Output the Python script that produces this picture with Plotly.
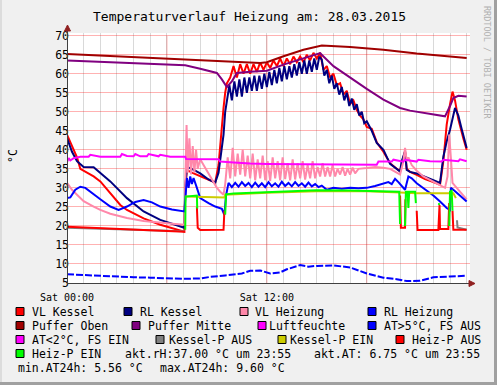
import plotly.graph_objects as go

# ---------------- data (hours since Sat 00:00, values in °C / %) ----------------
vlk_h = [0, 0.3, 0.6, 0.8, 1.1, 1.6, 2.0, 2.6, 3.2, 3.6, 4.6, 5.6, 6.5, 7.05, 7.1, 7.2, 7.5, 8.0, 8.5, 8.9,
         9.1, 9.3, 9.4, 9.5, 9.6, 9.8, 10.0, 10.2, 10.4, 10.6, 10.8, 11.0, 11.2, 11.4, 11.6, 11.8, 12.0, 12.2,
         12.4, 12.6, 12.8, 13.0, 13.2, 13.4, 13.6, 13.8, 14.0, 14.2, 14.4, 14.6, 14.8, 15.0, 15.2,
         15.4, 15.6, 15.8, 16.0, 16.2, 16.4, 16.6, 16.8, 17.0, 17.2, 17.4, 17.6, 17.8, 18.0, 18.3, 18.6,
         19.0, 19.4, 19.8, 20.0, 20.2, 20.3, 20.4, 20.6, 21.0, 21.5, 22.0, 22.4, 22.6, 22.8, 23.0, 23.15,
         23.3, 23.5, 23.8, 24.0]
vlk_v = [44, 41, 38, 35, 34.3, 33, 31.7, 28.5, 25.5, 24.2, 22, 20.3, 19.2, 18.5, 30, 34.7, 34, 33, 32, 31.4,
         36, 47, 51, 55, 57.5, 59, 62, 59, 62.5, 60, 62.5, 60, 62.5, 60.5, 63, 61, 63, 61.5,
         63.5, 62, 64, 62, 64, 62.5, 64.5, 63, 64.5, 63, 65, 63.5, 65.5, 64, 65.5,
         61, 62, 59, 60, 57, 57.5, 54.5, 55.5, 52, 53, 50.5, 49, 48, 46, 45.5, 42,
         39.5, 36.5, 35, 34.3, 38, 39.6, 35, 34.2, 33.4, 32.3, 31.5, 30.8, 37, 46.6, 52, 55.3,
         53, 48, 43, 40]

rlk_h = [0, 0.3, 0.6, 1.0, 1.6, 2.0, 2.6, 3.6, 4.6, 5.6, 6.5, 7.05, 7.1, 7.2, 7.5, 8.0, 8.5, 8.9,
         9.1, 9.3, 9.4, 9.5, 9.6, 9.75, 9.9, 10.05, 10.2, 10.35, 10.5, 10.65, 10.8, 10.95, 11.1, 11.25,
         11.4, 11.55, 11.7, 11.85, 12.0, 12.15, 12.3, 12.45, 12.6, 12.75, 12.9, 13.05, 13.2, 13.35,
         13.5, 13.65, 13.8, 13.95, 14.1, 14.25, 14.4, 14.55, 14.7, 14.85, 15.0, 15.15, 15.3,
         15.45, 15.6, 15.75, 15.9, 16.05, 16.2, 16.35, 16.5, 16.65, 16.8, 16.95, 17.1, 17.25, 17.4,
         17.55, 17.7, 17.85, 18.0, 18.3, 18.6, 19.0, 19.4, 19.8, 20.0, 20.1, 20.3, 20.4, 20.6, 21.0,
         21.5, 22.0, 22.4, 22.6, 22.8, 23.0, 23.3, 23.5, 23.7, 24.0]
rlk_v = [43.1, 39.5, 37, 35.5, 35.4, 34, 31.7, 27.3, 23.8, 21.6, 20.2, 19.5, 30, 35.5, 35, 33.8, 32.2, 31.4,
         34, 40, 44, 50, 52.7, 57, 53, 58, 54, 58.5, 54, 59, 55, 59, 55.5, 59.5,
         55.5, 59.5, 56, 60, 56.5, 60.5, 57, 61, 57.5, 61.5, 58, 62, 58.5, 62,
         59, 62.5, 59.5, 63, 60, 63.5, 60, 63.5, 60.5, 64, 61, 64.5, 63.7,
         59.5, 61, 57.5, 59.5, 56, 57.5, 54.5, 56.5, 53, 55, 51.5, 53.5, 50.5, 52,
         49, 50, 47, 47.5, 45, 41.8, 40, 36.3, 35, 34.3, 37, 39.6, 34.7, 34.2, 33.8,
         32.8, 32, 31.3, 38.2, 42.2, 45.3, 51, 49, 45.5, 40.5]

vlh_h = [0, 0.3, 0.6, 1.0, 1.6, 2.0, 2.6, 3.6, 4.6, 5.6, 6.5, 7.05, 7.1, 7.18, 7.25, 7.35, 7.45, 7.55,
         7.65, 7.75, 7.85, 8.0, 8.2, 8.4, 8.6, 8.8, 9.0, 9.2, 9.4, 9.5,
         9.65, 9.8, 9.95, 10.1, 10.25, 10.4, 10.55, 10.7, 10.85, 11.0, 11.15, 11.3, 11.45, 11.6, 11.75,
         11.9, 12.05, 12.2, 12.35, 12.5, 12.65, 12.8, 12.95, 13.1, 13.25, 13.4, 13.55, 13.7, 13.85,
         14.0, 14.15, 14.3, 14.45, 14.6, 14.75, 14.9, 15.05, 15.2, 15.35, 15.5, 15.65, 15.8, 15.95,
         16.1, 16.25, 16.4, 16.55, 16.7, 16.85, 17.0, 17.15, 17.3, 17.5, 18.0, 18.5, 19.0, 19.4, 19.8,
         20.0, 20.2, 20.3, 20.4, 20.5, 20.7, 21.0, 21.4, 21.8, 22.0, 22.4, 22.7, 22.85, 22.95, 23.05,
         23.15, 23.3, 23.6, 24.0]
vlh_v = [31.3, 29.5, 28.2, 26.5, 25.1, 24.2, 23.2, 22.1, 21.3, 20.8, 20.5, 20.3, 35, 46.5, 34, 43, 33.5, 41,
         34, 40, 35, 37.5, 36, 34.5, 33, 31.7, 30, 29, 28.2, 31,
         38, 32.5, 40.5, 33, 39, 33.5, 40, 33, 38.5, 32.5, 39, 32, 37.5, 32.5, 38.5,
         32, 37, 31.8, 38, 32.5, 37, 32, 38, 32.3, 36.5, 32, 37.5, 32.2, 36.5,
         32.5, 37, 32.2, 36, 32.5, 37, 32.5, 35.5, 33, 36.5, 33, 35.5, 33, 36,
         33, 35, 33.5, 35.5, 33.2, 35, 33.5, 35.3, 33.8, 35, 35.2, 35.5, 35.3, 35, 34,
         33.5, 37, 40.5, 37, 38, 36, 34.5, 33, 32.1, 31.5, 30.8, 30, 33, 44, 38,
         31.3, 30.5, 29, 27]

rlh_h = [0, 0.2, 0.5, 0.8, 1.1, 1.6, 2.0, 2.6, 3.1, 3.6, 4.1, 4.6, 5.1, 5.6, 6.3, 7.05, 7.1, 7.2, 7.3,
         7.4, 7.5, 7.6, 7.8, 8.0, 8.5, 8.9, 9.3, 9.45, 9.55, 9.7,
         9.9, 10.1, 10.3, 10.5, 10.7, 10.9, 11.1, 11.3, 11.5, 11.7, 11.9, 12.1, 12.3, 12.5, 12.7, 12.9,
         13.1, 13.3, 13.5, 13.7, 13.9, 14.1, 14.3, 14.5, 14.7, 14.9, 15.1, 15.3, 15.6, 16.0, 16.5,
         17.0, 17.5, 18.0, 18.5, 19.0, 19.3, 19.5, 19.7, 19.9, 20.1, 20.3, 20.5, 20.7, 21.0, 21.4,
         21.8, 22.0, 22.4, 22.8, 23.0, 23.05, 23.2, 23.5, 24.0]
rlh_v = [27.3, 27.5, 29.5, 30.3, 30, 28.2, 27, 25.1, 24.2, 25.1, 26.3, 26.8, 26.2, 25.1, 24.3, 23.8, 28, 32.6, 30,
         33, 31, 32.6, 30, 27.3, 26, 25.1, 24.5, 22.9, 28, 31.3,
         30.2, 31.3, 30.3, 31.5, 30.5, 31.3, 30.2, 31.4, 30.3, 31.2, 30.2, 31.5, 30.4, 31.2, 30.3, 31.6,
         30.5, 31.3, 30.4, 31.5, 30.5, 31.2, 30.3, 31.4, 30.4, 31, 30.2, 30.6, 29.5, 30, 29.8,
         30, 29.9, 30, 30.5, 31, 31.5, 31, 32.4, 31.5, 30.5, 29.5, 33, 32.5, 31.2, 30,
         28.7, 28, 26.4, 24.7, 24.2, 30, 29.5, 28.3, 26.4]

po_h = [0, 3, 6, 9, 11, 11.6, 12, 13, 14.2, 15.3, 17, 19, 21, 24]
po_v = [65.2, 64.6, 64, 63.4, 63, 62.8, 63, 64.6, 66.3, 67.4, 67, 66.3, 65.3, 64.1]

pm_h = [0, 3, 6, 7.1, 8, 9, 9.3, 9.6, 9.9, 10.2, 11.0, 11.6, 12.0, 13, 14, 15.2, 16, 17, 18, 19, 20,
        20.6, 21.5, 22.7, 23.0, 23.2, 23.5, 24]
pm_v = [63.5, 63, 62.5, 62.2, 61.3, 60.2, 58.5, 56.5, 58, 60.2, 60.5, 60.6, 60.8, 62.4, 63.8, 65.4, 62,
        58.9, 56, 53.2, 51, 50.3, 49.6, 48.8, 51.5, 53.6, 54.2, 54]

lf_h = [0, 0.1, 0.2, 0.4, 0.6, 0.8, 1.3, 1.4, 2.0, 2.5, 3.2, 3.3, 3.6, 4.0, 4.1, 4.4, 4.8, 4.9, 5.5,
        5.6, 6.2, 7.1, 7.15, 9.1, 9.2, 10.0, 11.0, 12.0, 14.0, 16.0, 18.6, 18.7, 19.5, 19.6, 20.2,
        20.3, 21.0, 21.1, 21.8, 22.5, 22.6, 23.5, 23.6, 24.0]
lf_v = [36.8, 37.8, 37.2, 37.8, 38.0, 38.2, 38.2, 38.7, 38.2, 38.2, 38.2, 38.9, 38.4, 38.3, 38.9, 38.3,
        38.3, 38.9, 38.3, 38.7, 38.2, 38.2, 37.6, 37.5, 36.9, 36.7, 36.4, 36.3, 36.2, 36.2, 36.1,
        36.9, 36.9, 37.4, 36.9, 37.4, 36.9, 37.4, 37.0, 36.9, 37.4, 37.0, 37.5, 37.0]

at_h = [0, 1, 2, 3, 4, 5, 6, 7, 8, 8.6, 9.5, 10.5, 11.0, 11.6, 12.2, 12.8, 13.2, 14.0, 14.5, 15, 16,
        17, 18, 19, 19.8, 20.4, 21.2, 22, 23, 24]
at_v = [7.3, 7.1, 6.8, 6.7, 6.5, 6.4, 6.2, 6.1, 6.2, 6.6, 7.0, 7.5, 8.2, 8.3, 7.5, 7.8, 8.6, 9.7, 9.3,
        9.5, 9.6, 9.1, 7.5, 6.4, 6.0, 5.5, 5.6, 6.5, 6.7, 6.9]

kpa_h = [0, 3, 7.08, 23.4, 23.42, 23.45, 24]
kpa_v = [19.5, 19.2, 18.6, None, 21.5, 19.6, 19.0]

kpe_h = [7.1, 9.45, 9.5, 12, 15, 18, 20, 21, 23.2, 23.35]
kpe_v = [27.7, 27.5, 28.2, 28.7, 29.1, 29.1, 28.8, 28.6, 28.6, 27.3]

hpa_h = [0, 3, 6, 7.08, 7.1, 7.8, 7.85, 8.0, 9.0, 9.4, 9.45, 9.5, 20.0, 20.05, 20.3, 20.32, 20.35,
         21.0, 21.05, 22.3, 22.33, 22.37, 22.4, 22.9, 22.95, 23.0, 23.15, 23.2, 24]
hpa_v = [19.8, 19.3, 18.8, 18.5, None, 25, 19.5, 18.9, 18.9, 19.0, 24, None, 28, 19.5, 19.5, 27, None,
         24, 18.9, 18.9, 25.5, 25.5, 19.2, 19.2, 26, None, 24, 19.0, 19.0]

hpe_h = [7.1, 7.12, 7.8, 7.82, 7.85, 9.5, 9.55, 10, 12, 13, 15, 17, 19, 19.95, 20.0, 20.05, 20.3,
         20.35, 20.45, 20.5, 20.55, 20.9, 20.95, 21.0, 22.33, 22.35, 22.4, 22.95, 23.0, 23.1, 23.15]
hpe_v = [19, 27.7, 28, 24.6, None, 23, 28.3, 28.5, 28.8, 29, 29.4, 29.3, 29.2, 29, 20.5, None, 20,
         29, 29, 24.7, 29, 29, 26, None, 25.5, 26, None, 20, 29, 29.2, 24]

series = [
    ("VL Kessel", "#ff0000", vlk_h, vlk_v, None),
    ("RL Kessel", "#000080", rlk_h, rlk_v, None),
    ("VL Heizung", "#ff88aa", vlh_h, vlh_v, None),
    ("RL Heizung", "#0000ff", rlh_h, rlh_v, None),
    ("Puffer Oben", "#a00000", po_h, po_v, None),
    ("Puffer Mitte", "#800080", pm_h, pm_v, None),
    ("Luftfeuchte", "#ff00ff", lf_h, lf_v, None),
    ("AT>5°C, FS AUS", "#0000ff", at_h, at_v, "7px,2px"),
    ("Kessel-P AUS", "#808080", kpa_h, kpa_v, None),
    ("Kessel-P EIN", "#cccc00", kpe_h, kpe_v, None),
    ("Heiz-P AUS", "#ff0000", hpa_h, hpa_v, None),
    ("Heiz-P EIN", "#00ff00", hpe_h, hpe_v, None),
]

legend_rows = [
    [("VL Kessel", "#ff0000", 16, 30), ("RL Kessel", "#000080", 124, 138),
     ("VL Heizung", "#ff88aa", 240, 253), ("RL Heizung", "#0000ff", 368, 382)],
    [("Puffer Oben", "#a00000", 16, 30), ("Puffer Mitte", "#800080", 132, 146),
     ("Luftfeuchte", "#ff00ff", 258, 267), ("AT>5°C, FS AUS", "#0000ff", 368, 382)],
    [("AT<2°C, FS EIN", "#ff00ff", 16, 30), ("Kessel-P AUS", "#808080", 156, 167),
     ("Kessel-P EIN", "#cccc00", 278, 288), ("Heiz-P AUS", "#ff0000", 396, 410)],
    [("Heiz-P EIN", "#00ff00", 16, 30), ("akt.rH:37.00 °C um 23:55", None, None, 123),
     ("akt.AT: 6.75 °C um 23:55", None, None, 312)],
    [("min.AT24h: 5.56 °C", None, None, 16), ("max.AT24h: 9.60 °C", None, None, 158)],
]
legend_y = [311.5, 325.5, 339.5, 353.5, 367.5]

# ---------------- geometry ----------------
W, H = 497, 385
L, R, T, B = 67, 470, 33, 283
X0, X1 = 0, 24.2
Y0, Y1 = 5, 70.7
MONO = "DejaVu Sans Mono"


def px(x):
    return (x - L) / (R - L)


def py(y):
    return (B - y) / (B - T)


fig = go.Figure()
for name, col, hx, vy, dash in series:
    fig.add_trace(go.Scatter(x=hx, y=vy, mode="lines", name=name, showlegend=False,
                             connectgaps=False, hoverinfo="skip",
                             line=dict(color=col, width=2, dash=dash) if dash else dict(color=col, width=2)))

shapes = []
# canvas frame
shapes.append(dict(type="rect", xref="paper", yref="paper", x0=px(W - 3), x1=px(W), y0=py(H), y1=py(0),
                   fillcolor="#a0a0a0", line=dict(width=0), layer="below"))
shapes.append(dict(type="rect", xref="paper", yref="paper", x0=px(0), x1=px(W), y0=py(H), y1=py(H - 3),
                   fillcolor="#a0a0a0", line=dict(width=0), layer="below"))
shapes.append(dict(type="rect", xref="paper", yref="paper", x0=px(0), x1=px(2), y0=py(H - 3), y1=py(0),
                   fillcolor="#dcdcdc", line=dict(width=0), layer="below"))
# major vertical grid
for hv in [6, 12, 18]:
    shapes.append(dict(type="line", xref="x", yref="paper", x0=hv, x1=hv, y0=0, y1=py(36),
                       line=dict(color="rgba(255,0,0,0.35)", width=1), layer="below"))
# axes
shapes.append(dict(type="line", xref="paper", yref="paper", x0=px(67.5), x1=px(67.5), y0=py(283), y1=py(30),
                   line=dict(color="#404040", width=1)))
shapes.append(dict(type="line", xref="paper", yref="paper", x0=px(67), x1=px(471), y0=py(283.5), y1=py(283.5),
                   line=dict(color="#404040", width=1)))
# arrows
shapes.append(dict(type="path", xref="paper", yref="paper",
                   path=f"M {px(64.5)} {py(31)} L {px(70.5)} {py(31)} L {px(67.5)} {py(25)} Z",
                   fillcolor="#902020", line=dict(color="#902020", width=1)))
shapes.append(dict(type="path", xref="paper", yref="paper",
                   path=f"M {px(469)} {py(280.5)} L {px(469)} {py(286.5)} L {px(475)} {py(283.5)} Z",
                   fillcolor="#902020", line=dict(color="#902020", width=1)))

annotations = []
annotations.append(dict(text="Temperaturverlauf Heizung am: 28.03.2015", xref="paper", yref="paper",
                        x=px(249), y=py(17), xanchor="center", yanchor="middle", showarrow=False,
                        font=dict(family=MONO, size=13, color="#000000")))
annotations.append(dict(text="RRDTOOL / TOBI OETIKER", xref="paper", yref="paper",
                        x=px(487), y=py(62), xanchor="center", yanchor="middle", showarrow=False,
                        textangle=90, font=dict(family=MONO, size=8.5, color="#b0b0b0")))
annotations.append(dict(text="°C", xref="paper", yref="paper", x=px(13), y=py(156), xanchor="center",
                        yanchor="middle", showarrow=False, textangle=-90,
                        font=dict(family=MONO, size=11.5, color="#000000")))

for row, yy in zip(legend_rows, legend_y):
    for text, col, bx, tx in row:
        if col is not None:
            shapes.append(dict(type="rect", xref="paper", yref="paper", x0=px(bx), x1=px(bx + 8),
                               y0=py(yy + 4), y1=py(yy - 4), fillcolor=col,
                               line=dict(color="#000000", width=1)))
        annotations.append(dict(text=text, xref="paper", yref="paper", x=px(tx), y=py(yy),
                                xanchor="left", yanchor="middle", showarrow=False,
                                font=dict(family=MONO, size=11.5, color="#000000")))

fig.update_layout(
    width=W, height=H,
    margin=dict(l=L, r=W - R, t=T, b=H - B, pad=0),
    paper_bgcolor="#f0f0f0", plot_bgcolor="#ffffff",
    shapes=shapes, annotations=annotations, showlegend=False, hovermode=False,
    xaxis=dict(range=[X0, X1], tickmode="array", tickvals=[0, 12], ticktext=["Sat 00:00", "Sat 12:00"],
               showgrid=False, zeroline=False, showline=False, ticks="outside", ticklen=5,
               tickcolor="rgba(0,0,0,0)", tickfont=dict(family=MONO, size=10, color="#000000"),
               minor=dict(tickmode="linear", tick0=0, dtick=1, showgrid=True,
                          gridcolor="rgba(128,128,128,0.3)", gridwidth=1, ticks="")),
    yaxis=dict(range=[Y0, Y1], tickmode="array", tickvals=list(range(5, 71, 5)),
               showgrid=True, gridcolor="rgba(255,0,0,0.3)", gridwidth=1, zeroline=False, showline=False,
               ticks="", ticklabelstandoff=-3, tickfont=dict(family=MONO, size=11.5, color="#000000")),
)

fig.write_html("out.html", config={"displayModeBar": False, "staticPlot": True},
               post_script="document.body.style.margin='0';document.body.style.overflow='hidden';")
